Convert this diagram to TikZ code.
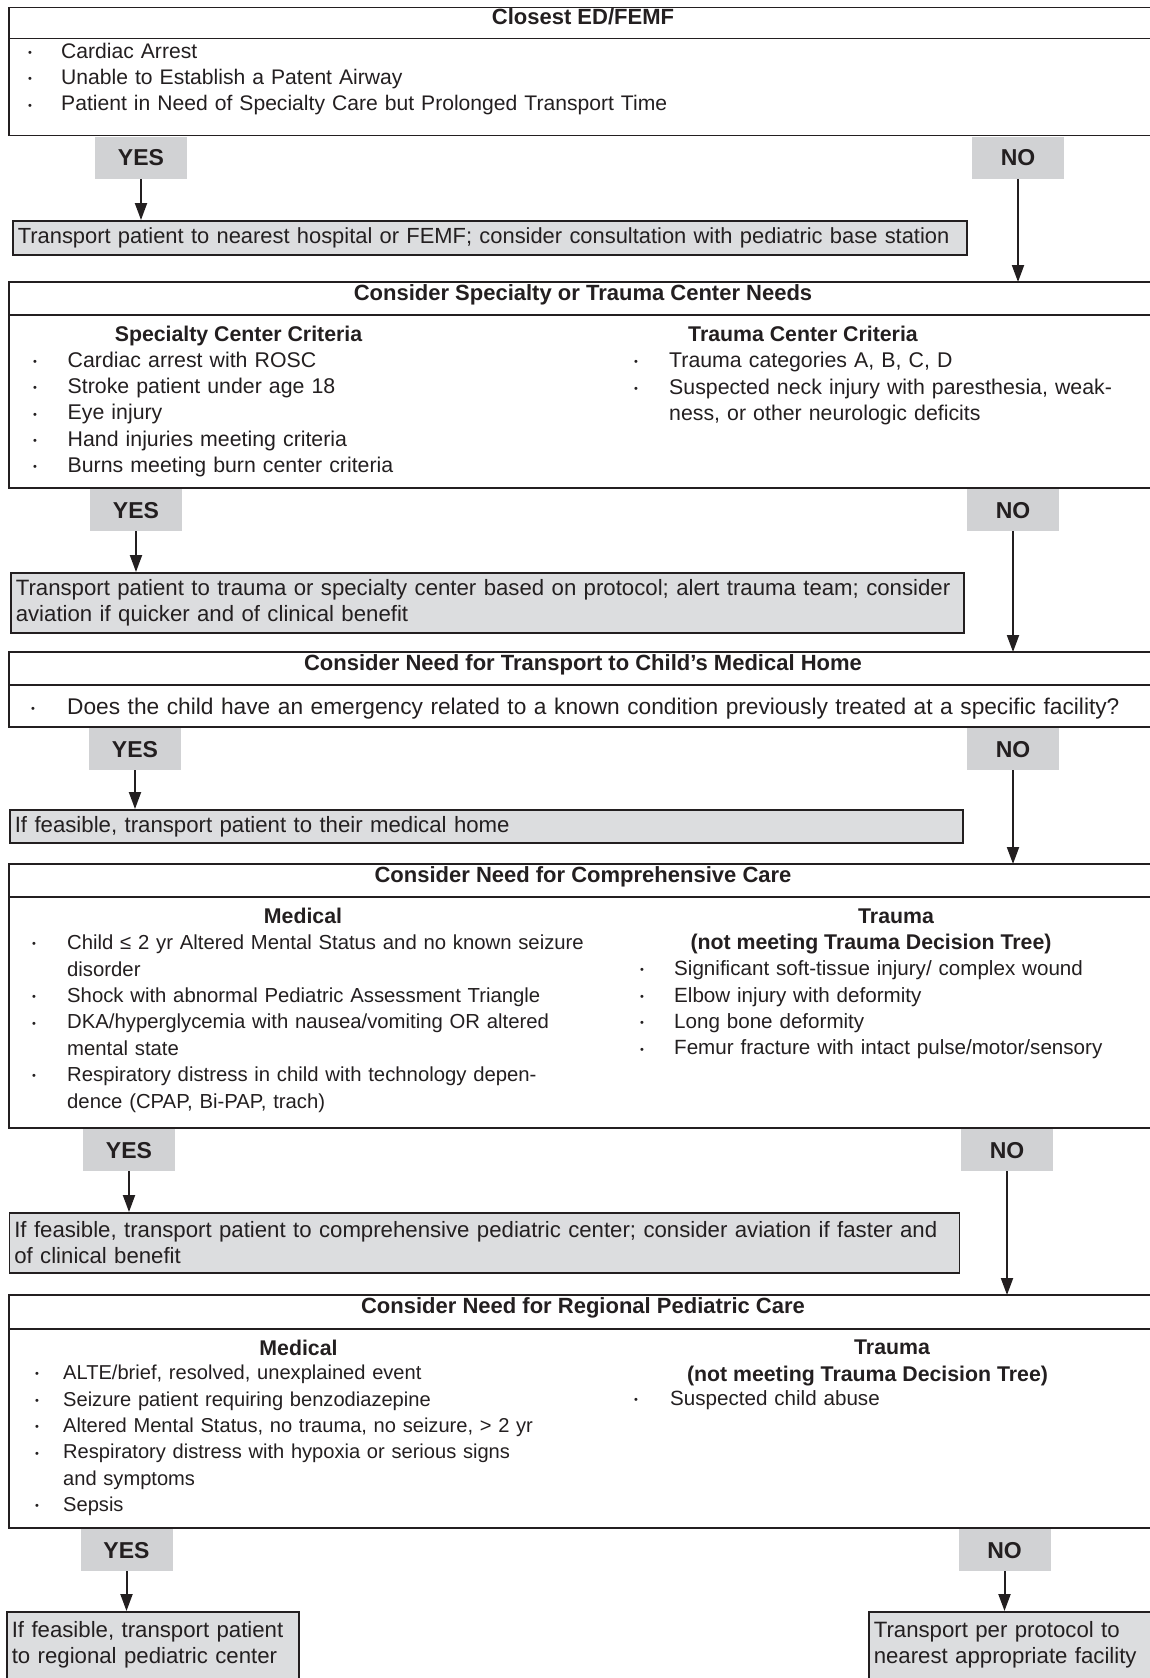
\documentclass[tikz,border=0pt]{standalone}
\usepackage{fontspec}
\setmainfont{Liberation Sans}
\usetikzlibrary{arrows.meta,positioning}
\definecolor{ink}{RGB}{35,31,32}
\definecolor{outgray}{RGB}{220,221,223}
\definecolor{tabgray}{RGB}{209,210,212}
\newlength{\bulw}
\newcommand{\bdot}{\raisebox{1.8pt}{\fontsize{11}{11}\selectfont\textbullet}}
\newcommand{\itm}[1]{\strut\makebox[\bulw][l]{\bdot}#1}
\newcommand{\cnt}[1]{\strut\hspace*{\bulw}#1}

\begin{document}
\begin{tikzpicture}[x=1pt,y=-1pt,
every node/.style={text=ink},
hd/.style={draw=ink, line width=1.6pt, outer sep=0pt, inner sep=0pt, minimum width=1148pt, minimum height=33pt, text height=16pt, text depth=12.2pt, font=\fontsize{22}{26}\selectfont\bfseries},
bd/.style={draw=ink, line width=1.6pt, outer sep=0pt, inner sep=0pt, minimum width=1148pt},
ttl/.style={anchor=base, inner sep=0pt, font=\fontsize{21.3}{26}\selectfont\bfseries},
bw/.code={\setlength{\bulw}{#1}},
fs/.style={font=\fontsize{#1}{26.4}\selectfont},
lst/.style={anchor=north west, inner sep=0pt, align=left, text width=#1, fs=20.8},
yn/.style={fill=tabgray, anchor=north, minimum width=92pt, minimum height=42pt, inner sep=0pt, font=\fontsize{23}{26}\selectfont\bfseries},
outbox/.style={draw=ink, fill=outgray, line width=1.6pt, anchor=north west, inner xsep=5pt, inner ysep=0pt, align=left, font=\fontsize{22.2}{26}\selectfont},
arr/.style={draw=ink, line width=2pt, -{Triangle[length=17pt,width=12pt]}}
]
\fill[white] (0,0) rectangle (1149,1678);
\useasboundingbox (0,0) rectangle (1149,1678);

\node[hd, minimum height=31pt, anchor=north] (h1) at (583,7.5) {Closest ED/FEMF};
\node[bd, minimum height=97pt, below=0pt of h1] (b1) {};
\node[lst=1000pt, fs=21.1, bw=33pt] (l1) at (28,39.5) {\itm{Cardiac Arrest}\\
\itm{Unable to Establish a Patent Airway}\\
\itm{Patient in Need of Specialty Care but Prolonged Transport Time}};
\node[yn] (y1) at (141,136.5) {YES};
\node[yn] (n1) at (1018,136.5) {NO};
\node[outbox, text width=944pt, minimum height=34pt, font=\fontsize{21.9}{26}\selectfont] (o1) at (12,220) {Transport patient to nearest hospital or FEMF; consider consultation with pediatric base station};
\draw[arr] (y1) -- (y1.south |- o1.north);

\node[hd, anchor=north] (h2) at (583,282) {Consider Specialty or Trauma Center Needs};
\node[bd, minimum height=173pt, below=0pt of h2] (b2) {};
\draw[arr] (n1) -- (n1.south |- h2.north);
\node[ttl] (t2a) at (238.5,341) {Specialty Center Criteria};
\node[ttl] (t2b) at (803,341) {Trauma Center Criteria};
\node[lst=560pt, fs=21.3, bw=34.5pt] (l2a) at (33,348.5) {\itm{Cardiac arrest with ROSC}\\
\itm{Stroke patient under age 18}\\
\itm{Eye injury}\\
\itm{Hand injuries meeting criteria}\\
\itm{Burns meeting burn center criteria}};
\node[lst=500pt, fs=21.3, bw=35pt] (l2b) at (634,349) {\itm{Trauma categories A, B, C, D}\\
\itm{Suspected neck injury with paresthesia, weak-}\\
\cnt{ness, or other neurologic deficits}};
\node[yn] (y2) at (136,489) {YES};
\node[yn] (n2) at (1013,489) {NO};
\node[outbox, text width=943pt, minimum height=60pt] (o2) at (10,572) {Transport patient to trauma or specialty center based on protocol; alert trauma team; consider\\
aviation if quicker and of clinical benefit};
\draw[arr] (y2) -- (y2.south |- o2.north);

\node[hd, anchor=north] (h3) at (583,652) {Consider Need for Transport to Child’s Medical Home};
\node[bd, minimum height=42pt, below=0pt of h3] (b3) {};
\draw[arr] (n2) -- (n2.south |- h3.north);
\node[lst=1115pt, fs=22.7, bw=36pt] (l3) at (31,695.5) {\itm{Does the child have an emergency related to a known condition previously treated at a specific facility?}};
\node[yn] (y3) at (135,728) {YES};
\node[yn] (n3) at (1013,728) {NO};
\node[outbox, text width=943pt, minimum height=33pt] (o3) at (9,809) {If feasible, transport patient to their medical home};
\draw[arr] (y3) -- (y3.south |- o3.north);

\node[hd, anchor=north] (h4) at (583,864) {Consider Need for Comprehensive Care};
\node[bd, minimum height=231pt, below=0pt of h4] (b4) {};
\draw[arr] (n3) -- (n3.south |- h4.north);
\node[ttl] (t4a) at (303,923) {Medical};
\node[ttl] (t4b) at (896,923) {Trauma};
\node[ttl] (t4c) at (871,949) {(not meeting Trauma Decision Tree)};
\node[lst=600pt, fs=20.3, bw=35pt] (l4a) at (32,931) {\itm{Child ≤ 2 yr Altered Mental Status and no known seizure}\\
\cnt{disorder}\\
\itm{Shock with abnormal Pediatric Assessment Triangle}\\
\itm{DKA/hyperglycemia with nausea/vomiting OR altered}\\
\cnt{mental state}\\
\itm{Respiratory distress in child with technology depen-}\\
\cnt{dence (CPAP, Bi-PAP, trach)}};
\node[lst=500pt, fs=20.6, bw=34pt] (l4b) at (640,957) {\itm{Significant soft-tissue injury/ complex wound}\\
\itm{Elbow injury with deformity}\\
\itm{Long bone deformity}\\
\itm{Femur fracture with intact pulse/motor/sensory}};
\node[yn] (y4) at (129,1129) {YES};
\node[yn] (n4) at (1007,1129) {NO};
\node[outbox, text width=940pt, minimum height=60pt] (o4) at (8.5,1212) {If feasible, transport patient to comprehensive pediatric center; consider aviation if faster and\\
of clinical benefit};
\draw[arr] (y4) -- (y4.south |- o4.north);

\node[hd, minimum height=34pt, anchor=north] (h5) at (583,1295) {Consider Need for Regional Pediatric Care};
\node[bd, minimum height=199pt, below=0pt of h5] (b5) {};
\draw[arr] (n4) -- (n4.south |- h5.north);
\node[ttl] (t5a) at (298.5,1355) {Medical};
\node[ttl] (t5b) at (892,1354) {Trauma};
\node[ttl] (t5c) at (867.5,1381) {(not meeting Trauma Decision Tree)};
\node[lst=560pt, fs=20.1, bw=28pt] (l5a) at (35,1361) {\itm{ALTE/brief, resolved, unexplained event}\\
\itm{Seizure patient requiring benzodiazepine}\\
\itm{Altered Mental Status, no trauma, no seizure, > 2 yr}\\
\itm{Respiratory distress with hypoxia or serious signs}\\
\cnt{and symptoms}\\
\itm{Sepsis}};
\node[lst=500pt, fs=20.6, bw=36pt] (l5b) at (634,1387) {\itm{Suspected child abuse}};
\node[yn] (y5) at (126.5,1529) {YES};
\node[yn] (n5) at (1004.5,1529) {NO};
\node[outbox, text width=282pt, inner ysep=7.5pt, text depth=100pt] (o5) at (6,1611) {\strut If feasible, transport patient\\
\strut to regional pediatric center};
\node[outbox, text width=300pt, inner ysep=7.5pt, text depth=100pt] (o6) at (868,1611) {\strut Transport per protocol to\\
\strut nearest appropriate facility};
\draw[arr] (y5) -- (y5.south |- o5.north);
\draw[arr] (n5) -- (n5.south |- o6.north);
\end{tikzpicture}
\end{document}
